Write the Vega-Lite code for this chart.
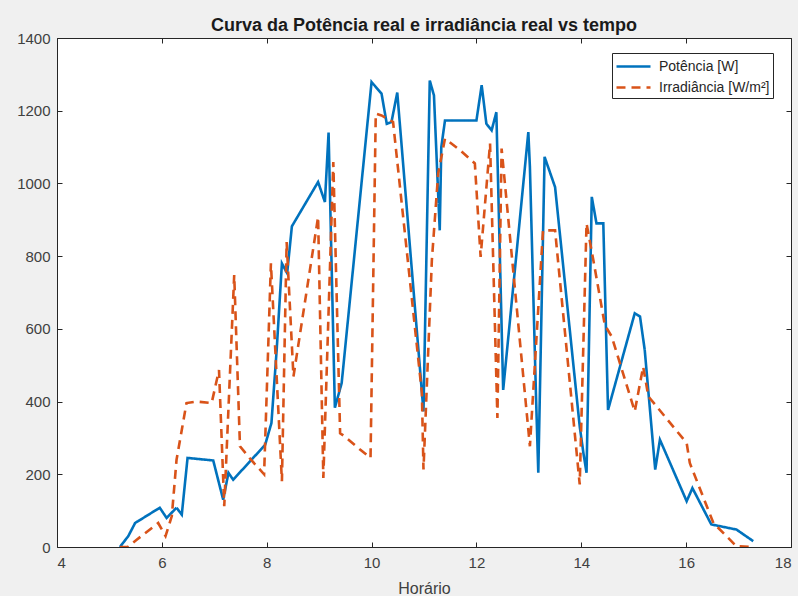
{
  "$schema": "https://vega.github.io/schema/vega-lite/v6.json",
  "width": 734,
  "height": 509,
  "autosize": {"type": "none"},
  "padding": {"left": 57, "top": 38, "right": 7, "bottom": 49},
  "background": "#f0f0f0",
  "title": {"text": "Curva da Potência real e irradiância real vs tempo", "font": "Liberation Sans", "fontSize": 18, "fontWeight": "bold", "color": "#1a1a1a", "anchor": "middle", "offset": -4},
  "config": {
    "view": {"fill": "white", "stroke": null},
    "axis": {"domainColor": "#262626", "tickColor": "#262626", "labelColor": "#404040", "labelFont": "Liberation Sans", "labelFontSize": 15, "titleFont": "Liberation Sans", "titleFontSize": 16, "titleFontWeight": "normal", "titleColor": "#404040", "grid": false, "tickSize": -5}
  },
  "data": {"values": [
    {"hora": 5.2, "valor": 0, "serie": "Potência [W]"},
    {"hora": 5.36, "valor": 30, "serie": "Potência [W]"},
    {"hora": 5.49, "valor": 66, "serie": "Potência [W]"},
    {"hora": 5.96, "valor": 108, "serie": "Potência [W]"},
    {"hora": 6.09, "valor": 80, "serie": "Potência [W]"},
    {"hora": 6.28, "valor": 108, "serie": "Potência [W]"},
    {"hora": 6.38, "valor": 89, "serie": "Potência [W]"},
    {"hora": 6.49, "valor": 245, "serie": "Potência [W]"},
    {"hora": 6.98, "valor": 238, "serie": "Potência [W]"},
    {"hora": 7.17, "valor": 130, "serie": "Potência [W]"},
    {"hora": 7.27, "valor": 204, "serie": "Potência [W]"},
    {"hora": 7.36, "valor": 185, "serie": "Potência [W]"},
    {"hora": 7.97, "valor": 281, "serie": "Potência [W]"},
    {"hora": 8.09, "valor": 341, "serie": "Potência [W]"},
    {"hora": 8.19, "valor": 542, "serie": "Potência [W]"},
    {"hora": 8.29, "valor": 780, "serie": "Potência [W]"},
    {"hora": 8.39, "valor": 753, "serie": "Potência [W]"},
    {"hora": 8.48, "valor": 882, "serie": "Potência [W]"},
    {"hora": 8.98, "valor": 1004, "serie": "Potência [W]"},
    {"hora": 9.11, "valor": 949, "serie": "Potência [W]"},
    {"hora": 9.18, "valor": 1140, "serie": "Potência [W]"},
    {"hora": 9.3, "valor": 383, "serie": "Potência [W]"},
    {"hora": 9.43, "valor": 451, "serie": "Potência [W]"},
    {"hora": 10.0, "valor": 1279, "serie": "Potência [W]"},
    {"hora": 10.19, "valor": 1247, "serie": "Potência [W]"},
    {"hora": 10.29, "valor": 1164, "serie": "Potência [W]"},
    {"hora": 10.38, "valor": 1169, "serie": "Potência [W]"},
    {"hora": 10.49, "valor": 1250, "serie": "Potência [W]"},
    {"hora": 10.99, "valor": 373, "serie": "Potência [W]"},
    {"hora": 11.11, "valor": 1283, "serie": "Potência [W]"},
    {"hora": 11.19, "valor": 1242, "serie": "Potência [W]"},
    {"hora": 11.27, "valor": 972, "serie": "Potência [W]"},
    {"hora": 11.3, "valor": 871, "serie": "Potência [W]"},
    {"hora": 11.33, "valor": 1100, "serie": "Potência [W]"},
    {"hora": 11.4, "valor": 1173, "serie": "Potência [W]"},
    {"hora": 12.0, "valor": 1173, "serie": "Potência [W]"},
    {"hora": 12.1, "valor": 1270, "serie": "Potência [W]"},
    {"hora": 12.19, "valor": 1164, "serie": "Potência [W]"},
    {"hora": 12.29, "valor": 1146, "serie": "Potência [W]"},
    {"hora": 12.38, "valor": 1196, "serie": "Potência [W]"},
    {"hora": 12.51, "valor": 432, "serie": "Potência [W]"},
    {"hora": 12.99, "valor": 1141, "serie": "Potência [W]"},
    {"hora": 13.02, "valor": 1045, "serie": "Potência [W]"},
    {"hora": 13.14, "valor": 396, "serie": "Potência [W]"},
    {"hora": 13.18, "valor": 204, "serie": "Potência [W]"},
    {"hora": 13.3, "valor": 1073, "serie": "Potência [W]"},
    {"hora": 13.5, "valor": 990, "serie": "Potência [W]"},
    {"hora": 13.97, "valor": 332, "serie": "Potência [W]"},
    {"hora": 14.04, "valor": 259, "serie": "Potência [W]"},
    {"hora": 14.1, "valor": 204, "serie": "Potência [W]"},
    {"hora": 14.2, "valor": 963, "serie": "Potência [W]"},
    {"hora": 14.29, "valor": 890, "serie": "Potência [W]"},
    {"hora": 14.42, "valor": 890, "serie": "Potência [W]"},
    {"hora": 14.51, "valor": 377, "serie": "Potência [W]"},
    {"hora": 15.02, "valor": 643, "serie": "Potência [W]"},
    {"hora": 15.12, "valor": 634, "serie": "Potência [W]"},
    {"hora": 15.21, "valor": 542, "serie": "Potência [W]"},
    {"hora": 15.41, "valor": 213, "serie": "Potência [W]"},
    {"hora": 15.5, "valor": 295, "serie": "Potência [W]"},
    {"hora": 16.01, "valor": 126, "serie": "Potência [W]"},
    {"hora": 16.12, "valor": 162, "serie": "Potência [W]"},
    {"hora": 16.48, "valor": 62, "serie": "Potência [W]"},
    {"hora": 16.96, "valor": 48, "serie": "Potência [W]"},
    {"hora": 17.28, "valor": 16, "serie": "Potência [W]"},
    {"hora": 5.2, "valor": 0, "serie": "Irradiância [W/m²]"},
    {"hora": 5.35, "valor": 0, "serie": "Irradiância [W/m²]"},
    {"hora": 5.52, "valor": 20, "serie": "Irradiância [W/m²]"},
    {"hora": 5.93, "valor": 66, "serie": "Irradiância [W/m²]"},
    {"hora": 6.07, "valor": 30, "serie": "Irradiância [W/m²]"},
    {"hora": 6.19, "valor": 85, "serie": "Irradiância [W/m²]"},
    {"hora": 6.28, "valor": 240, "serie": "Irradiância [W/m²]"},
    {"hora": 6.38, "valor": 322, "serie": "Irradiância [W/m²]"},
    {"hora": 6.47, "valor": 396, "serie": "Irradiância [W/m²]"},
    {"hora": 6.66, "valor": 400, "serie": "Irradiância [W/m²]"},
    {"hora": 6.95, "valor": 396, "serie": "Irradiância [W/m²]"},
    {"hora": 7.09, "valor": 487, "serie": "Irradiância [W/m²]"},
    {"hora": 7.19, "valor": 112, "serie": "Irradiância [W/m²]"},
    {"hora": 7.38, "valor": 748, "serie": "Irradiância [W/m²]"},
    {"hora": 7.49, "valor": 277, "serie": "Irradiância [W/m²]"},
    {"hora": 7.7, "valor": 240, "serie": "Irradiância [W/m²]"},
    {"hora": 7.95, "valor": 200, "serie": "Irradiância [W/m²]"},
    {"hora": 8.08, "valor": 780, "serie": "Irradiância [W/m²]"},
    {"hora": 8.29, "valor": 181, "serie": "Irradiância [W/m²]"},
    {"hora": 8.38, "valor": 839, "serie": "Irradiância [W/m²]"},
    {"hora": 8.51, "valor": 469, "serie": "Irradiância [W/m²]"},
    {"hora": 8.98, "valor": 908, "serie": "Irradiância [W/m²]"},
    {"hora": 9.08, "valor": 190, "serie": "Irradiância [W/m²]"},
    {"hora": 9.27, "valor": 1059, "serie": "Irradiância [W/m²]"},
    {"hora": 9.4, "valor": 313, "serie": "Irradiância [W/m²]"},
    {"hora": 9.49, "valor": 304, "serie": "Irradiância [W/m²]"},
    {"hora": 9.78, "valor": 268, "serie": "Irradiância [W/m²]"},
    {"hora": 9.98, "valor": 245, "serie": "Irradiância [W/m²]"},
    {"hora": 10.08, "valor": 1192, "serie": "Irradiância [W/m²]"},
    {"hora": 10.19, "valor": 1187, "serie": "Irradiância [W/m²]"},
    {"hora": 10.41, "valor": 1169, "serie": "Irradiância [W/m²]"},
    {"hora": 10.96, "valor": 423, "serie": "Irradiância [W/m²]"},
    {"hora": 10.99, "valor": 213, "serie": "Irradiância [W/m²]"},
    {"hora": 11.15, "valor": 789, "serie": "Irradiância [W/m²]"},
    {"hora": 11.27, "valor": 1027, "serie": "Irradiância [W/m²]"},
    {"hora": 11.4, "valor": 1123, "serie": "Irradiância [W/m²]"},
    {"hora": 11.69, "valor": 1091, "serie": "Irradiância [W/m²]"},
    {"hora": 11.97, "valor": 1055, "serie": "Irradiância [W/m²]"},
    {"hora": 12.08, "valor": 798, "serie": "Irradiância [W/m²]"},
    {"hora": 12.26, "valor": 1110, "serie": "Irradiância [W/m²]"},
    {"hora": 12.4, "valor": 355, "serie": "Irradiância [W/m²]"},
    {"hora": 12.48, "valor": 1096, "serie": "Irradiância [W/m²]"},
    {"hora": 13.02, "valor": 277, "serie": "Irradiância [W/m²]"},
    {"hora": 13.27, "valor": 871, "serie": "Irradiância [W/m²]"},
    {"hora": 13.5, "valor": 871, "serie": "Irradiância [W/m²]"},
    {"hora": 13.97, "valor": 172, "serie": "Irradiância [W/m²]"},
    {"hora": 14.1, "valor": 890, "serie": "Irradiância [W/m²]"},
    {"hora": 14.23, "valor": 789, "serie": "Irradiância [W/m²]"},
    {"hora": 14.45, "valor": 610, "serie": "Irradiância [W/m²]"},
    {"hora": 14.58, "valor": 579, "serie": "Irradiância [W/m²]"},
    {"hora": 15.02, "valor": 373, "serie": "Irradiância [W/m²]"},
    {"hora": 15.18, "valor": 496, "serie": "Irradiância [W/m²]"},
    {"hora": 15.28, "valor": 414, "serie": "Irradiância [W/m²]"},
    {"hora": 16.01, "valor": 286, "serie": "Irradiância [W/m²]"},
    {"hora": 16.07, "valor": 231, "serie": "Irradiância [W/m²]"},
    {"hora": 16.52, "valor": 66, "serie": "Irradiância [W/m²]"},
    {"hora": 16.96, "valor": 2, "serie": "Irradiância [W/m²]"},
    {"hora": 17.28, "valor": 0, "serie": "Irradiância [W/m²]"}
  ]},
  "layer": [
    {
      "mark": {"type": "line", "strokeWidth": 2.6, "clip": true},
      "encoding": {
        "x": {"field": "hora", "type": "quantitative", "scale": {"domain": [4, 18], "nice": false}, "axis": {"title": "Horário", "values": [4, 6, 8, 10, 12, 14, 16, 18], "labelPadding": 13, "titlePadding": 10}},
        "y": {"field": "valor", "type": "quantitative", "scale": {"domain": [0, 1400], "nice": false}, "axis": {"title": null, "format": "d", "values": [0, 200, 400, 600, 800, 1000, 1200, 1400], "labelPadding": 12}},
        "color": {"field": "serie", "type": "nominal", "scale": {"domain": ["Potência [W]", "Irradiância [W/m²]"], "range": ["#0072BD", "#D95319"]},
          "legend": {"title": null, "orient": "none", "legendX": 555, "legendY": 15, "fillColor": "white", "strokeColor": "#262626", "padding": 3, "symbolType": "M-1.889,0H1.889", "symbolSize": 324, "symbolOffset": 8, "symbolStrokeWidth": 2.5, "labelFont": "Liberation Sans", "labelFontSize": 14, "labelColor": "#262626", "labelLimit": 300, "rowPadding": 3, "labelOffset": 15}},
        "strokeDash": {"field": "serie", "type": "nominal", "scale": {"domain": ["Potência [W]", "Irradiância [W/m²]"], "range": [[1, 0], [9, 6]]},
          "legend": {"title": null, "orient": "none", "legendX": 555, "legendY": 15, "fillColor": "white", "strokeColor": "#262626", "padding": 3, "symbolType": "M-1.889,0H1.889", "symbolSize": 324, "symbolOffset": 8, "symbolStrokeWidth": 2.5, "labelFont": "Liberation Sans", "labelFontSize": 14, "labelColor": "#262626", "labelLimit": 300, "rowPadding": 3, "labelOffset": 15}}
      }
    },
    {
      "mark": {"type": "rule", "opacity": 0},
      "encoding": {
        "x": {"datum": 4, "type": "quantitative", "axis": {"orient": "top", "labels": false, "title": null, "values": [4, 6, 8, 10, 12, 14, 16, 18]}},
        "y": {"datum": 0, "type": "quantitative", "axis": {"orient": "right", "labels": false, "title": null, "values": [0, 200, 400, 600, 800, 1000, 1200, 1400]}}
      }
    }
  ],
  "resolve": {"axis": {"x": "independent", "y": "independent"}}
}
